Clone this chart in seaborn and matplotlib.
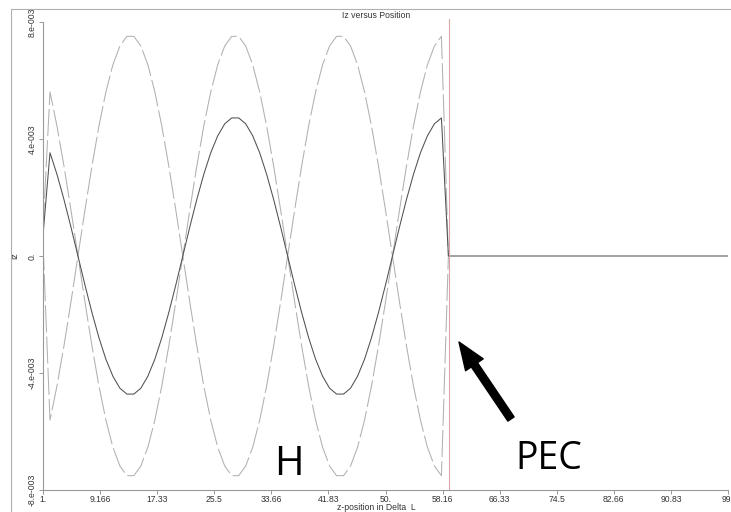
import numpy as np
import pandas as pd
import matplotlib
matplotlib.use("Agg")
import matplotlib.pyplot as plt
import seaborn as sns
from matplotlib.lines import Line2D

# ---------------- data (values in units of 1e-3) ----------------
z_pos = list(range(1, 100))

iz_total = [0.70,
            3.53, 2.79, 1.93, 0.99, 0.00, -0.99, -1.93, -2.79, -3.53, -4.11, -4.52, -4.72, -4.72, -4.52, -4.11,
            -3.53, -2.79, -1.93, -0.99, 0.00, 0.99, 1.93, 2.79, 3.53, 4.11, 4.52, 4.72, 4.72, 4.52, 4.11,
            3.53, 2.79, 1.93, 0.99, 0.00, -0.99, -1.93, -2.79, -3.53, -4.11, -4.52, -4.72, -4.72, -4.52, -4.11,
            -3.53, -2.79, -1.93, -0.99, 0.00, 0.99, 1.93, 2.79, 3.53, 4.11, 4.52, 4.72,
            0.00] + [0.00] * 40

z_dash = list(range(1, 60))
iz_dash_a = [0.90,
             5.61, 4.44, 3.07, 1.57, 0.00, -1.57, -3.07, -4.44, -5.61, -6.54, -7.18, -7.51, -7.51, -7.18, -6.54,
             -5.61, -4.44, -3.07, -1.57, 0.00, 1.57, 3.07, 4.44, 5.61, 6.54, 7.18, 7.51, 7.51, 7.18, 6.54,
             5.61, 4.44, 3.07, 1.57, 0.00, -1.57, -3.07, -4.44, -5.61, -6.54, -7.18, -7.51, -7.51, -7.18, -6.54,
             -5.61, -4.44, -3.07, -1.57, 0.00, 1.57, 3.07, 4.44, 5.61, 6.54, 7.18, 7.51,
             0.00]
iz_dash_b = [0.45,
             -5.61, -4.44, -3.07, -1.57, 0.00, 1.57, 3.07, 4.44, 5.61, 6.54, 7.18, 7.51, 7.51, 7.18, 6.54,
             5.61, 4.44, 3.07, 1.57, 0.00, -1.57, -3.07, -4.44, -5.61, -6.54, -7.18, -7.51, -7.51, -7.18, -6.54,
             -5.61, -4.44, -3.07, -1.57, 0.00, 1.57, 3.07, 4.44, 5.61, 6.54, 7.18, 7.51, 7.51, 7.18, 6.54,
             5.61, 4.44, 3.07, 1.57, 0.00, -1.57, -3.07, -4.44, -5.61, -6.54, -7.18, -7.51,
             0.00]

pec_position = 59.1

x_ticks = [1, 9.1667, 17.333, 25.5, 33.667, 41.833, 50, 58.167, 66.333, 74.5, 82.667, 90.833, 99]
x_tick_labels = ["1.", "9.166", "17.33", "25.5", "33.66", "41.83", "50.", "58.16",
                 "66.33", "74.5", "82.66", "90.83", "99."]
y_ticks = [-8e-3, -4e-3, 0, 4e-3, 8e-3]
y_tick_labels = ["-8.e-003", "-4.e-003", "0.", "4.e-003", "8.e-003"]

# ---------------- build table ----------------
df = pd.concat([
    pd.DataFrame({"z": z_dash, "Iz": np.array(iz_dash_a) * 1e-3, "series": "dash_a"}),
    pd.DataFrame({"z": z_dash, "Iz": np.array(iz_dash_b) * 1e-3, "series": "dash_b"}),
    pd.DataFrame({"z": z_pos, "Iz": np.array(iz_total) * 1e-3, "series": "total"}),
], ignore_index=True)

sns.set_theme(style="white")
plt.rcParams["font.family"] = ["Liberation Sans", "DejaVu Sans"]

W, H = 731, 512
fig = plt.figure(figsize=(W / 100, H / 100), dpi=100)
ax = fig.add_axes([43 / W, 1 - 490 / H, (728 - 43) / W, (490 - 22) / H])

palette = {"dash_a": "#b0b0b0", "dash_b": "#b0b0b0", "total": "#505050"}
dashes = {"dash_a": (26, 4), "dash_b": (26, 4), "total": ""}
sns.lineplot(data=df, x="z", y="Iz", hue="series", style="series",
             palette=palette, dashes=dashes, linewidth=0.75, sort=False,
             estimator=None, legend=False, ax=ax)

ax.axvline(pec_position, ymin=0, ymax=1.006, color="#dca4a4", lw=0.8, clip_on=False)

ax.set_xlim(1, 99)
ax.set_ylim(-8e-3, 8e-3)
ax.set_xticks(x_ticks)
ax.set_xticklabels(x_tick_labels, fontsize=6.2, color="#333333")
ax.set_yticks(y_ticks)
ax.set_yticklabels(y_tick_labels, fontsize=6.2, color="#333333", rotation=90, va="center")
ax.tick_params(axis="both", which="both", direction="out", length=3, width=0.6,
               color="#888888", pad=1.5, bottom=True, left=True)
ax.tick_params(axis="x", pad=0.5)
for s in ["top", "right"]:
    ax.spines[s].set_visible(False)
for s in ["left", "bottom"]:
    ax.spines[s].set_color("#999999")
    ax.spines[s].set_linewidth(0.8)

ax.set_xlabel("z-position in Delta  L", fontsize=6.2, color="#333333")
ax.xaxis.set_label_coords(0.486, -0.0275)
ax.set_ylabel("Iz", fontsize=6.2, color="#333333")
ax.yaxis.set_label_coords(-0.035, 0.5)
ax.set_title("Iz versus Position", fontsize=6.2, color="#333333", x=0.486, pad=3)

# outer frame lines
fig.add_artist(Line2D([11 / W, 1], [1 - 9 / H, 1 - 9 / H], color="#b0b0b0", lw=0.8))
fig.add_artist(Line2D([11 / W, 11 / W], [0, 1 - 9 / H], color="#b0b0b0", lw=0.8))

# annotations
fig.text(289 / W, 1 - 465 / H, "H", fontsize=29, family=["Open Sans", "DejaVu Sans"],
         ha="center", va="center", color="black")
fig.text(549 / W, 1 - 459 / H, "PEC", fontsize=27, family=["Open Sans", "DejaVu Sans"],
         ha="center", va="center", color="black")
ax.annotate("", xy=(459, H - 342), xycoords="figure pixels",
            xytext=(511, H - 419), textcoords="figure pixels",
            arrowprops=dict(arrowstyle="simple,head_length=1.1,head_width=0.85,tail_width=0.3",
                            mutation_scale=18, color="black", shrinkA=0, shrinkB=0))

fig.savefig("out.png", dpi=100)
